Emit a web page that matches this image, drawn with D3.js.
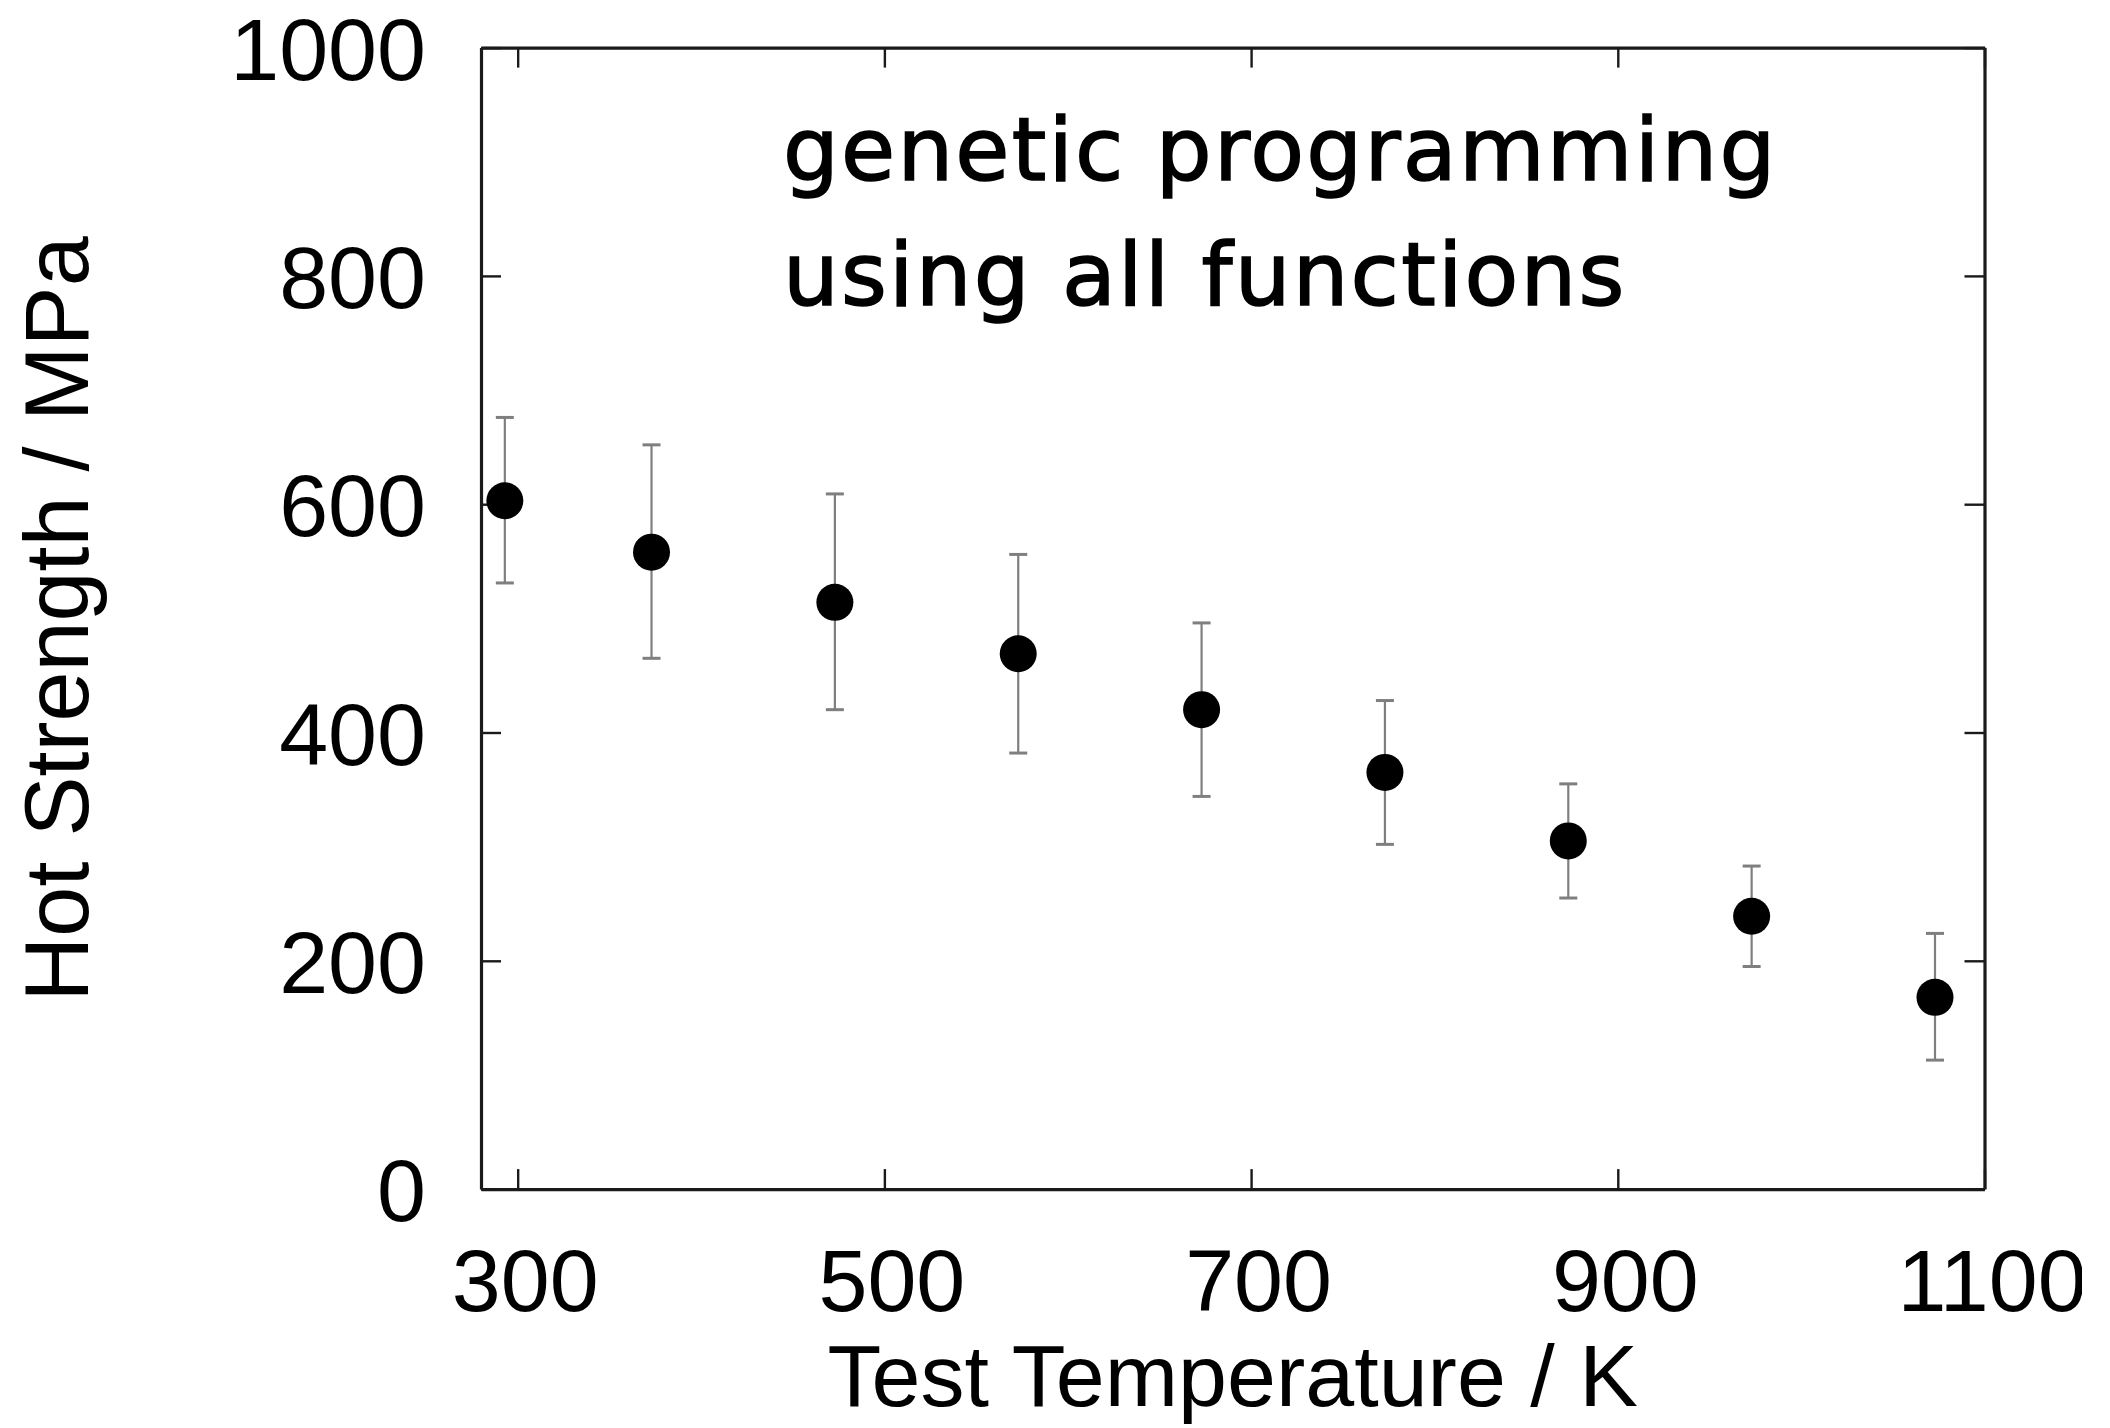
<!DOCTYPE html>
<html>
<head>
<meta charset="utf-8">
<script src="https://cdn.jsdelivr.net/npm/d3@7"></script>
<style>
	body { margin: 0; background: #fff; }
	.tick text { font-family: "Liberation Sans", Arial, sans-serif; }
</style>
</head>
<body>
<div id="chart"></div>
<script>
// test temperature / K
var temperatures = [293, 373, 473, 573, 673, 773, 873, 973, 1073];
// predicted hot strength / MPa
var strength = [603, 558, 514, 469, 420, 365, 305, 239, 168];
// error bar ends / MPa
var upper = [676, 652, 609, 556, 496, 428, 355, 283, 224];
var lower = [531, 465, 420, 382, 344, 302, 255, 195, 113];

var xTicks = [300, 500, 700, 900, 1100];
var yTicks = [0, 200, 400, 600, 800, 1000];

var width = 2110,
	height = 1428;

var margin = {top: 47.6, right: 125.5, bottom: 238.9, left: 481};
var innerW = width - margin.left - margin.right,
	innerH = height - margin.top - margin.bottom;

var svg = d3.select('#chart')
	.append('svg')
	.attr('width', width)
	.attr('height', height);

// the reference is cut off on the right
svg.append('clipPath')
	.attr('id', 'cut')
	.append('rect')
	.attr('width', 2082)
	.attr('height', height);

var root = svg.append('g')
	.attr('clip-path', 'url(#cut)');

var g = root.append('g')
	.attr('transform', 'translate(' + margin.left + ',' + margin.top + ')');

var x = d3.scaleLinear()
	.domain([280, 1100])
	.range([0, innerW]);

var y = d3.scaleLinear()
	.domain([0, 1000])
	.range([innerH, 0]);

var TICK = 20,
	fmt = d3.format('d');

function styleAxis(sel, showLabels) {
	sel.select('.domain')
		.attr('stroke', '#1a1a1a')
		.attr('stroke-width', 3.2);
	sel.selectAll('.tick line')
		.attr('stroke', '#1a1a1a')
		.attr('stroke-width', 2.4);
	sel.selectAll('.tick text')
		.attr('fill', '#000')
		.style('font-size', '88px')
		.style('display', showLabels ? null : 'none');
}

// bottom
g.append('g')
	.attr('transform', 'translate(0,' + innerH + ')')
	.call(d3.axisBottom(x).tickValues(xTicks).tickFormat(fmt).tickSizeInner(-TICK).tickSizeOuter(0).tickPadding(0))
	.call(styleAxis, true)
	.selectAll('.tick text')
	.attr('dy', null)
	.attr('y', 122)
	.attr('x', 7);

// top
g.append('g')
	.call(d3.axisTop(x).tickValues(xTicks).tickSizeInner(-TICK).tickSizeOuter(0))
	.call(styleAxis, false);

// left
g.append('g')
	.call(d3.axisLeft(y).tickValues(yTicks).tickFormat(fmt).tickSizeInner(-TICK).tickSizeOuter(0).tickPadding(0))
	.call(styleAxis, true)
	.selectAll('.tick text')
	.attr('x', -55)
	.attr('dy', '0.36em');

// right
g.append('g')
	.attr('transform', 'translate(' + innerW + ',0)')
	.call(d3.axisRight(y).tickValues(yTicks).tickSizeInner(-TICK).tickSizeOuter(0))
	.call(styleAxis, false);

var pts = temperatures.map(function(t, i) {
	return {t: t, s: strength[i], hi: upper[i], lo: lower[i]};
});

// error bars
var bars = g.append('g')
	.attr('stroke', '#7f7f7f')
	.attr('stroke-width', 2.2)
	.selectAll('g.err')
	.data(pts)
	.enter()
	.append('g')
	.classed('err', true);

bars.append('line')
	.attr('x1', function(d) { return x(d.t); })
	.attr('x2', function(d) { return x(d.t); })
	.attr('y1', function(d) { return y(d.hi); })
	.attr('y2', function(d) { return y(d.lo); });

bars.selectAll('line.cap')
	.data(function(d) { return [[d.t, d.hi], [d.t, d.lo]]; })
	.enter()
	.append('line')
	.classed('cap', true)
	.attr('stroke-width', 3)
	.attr('x1', function(d) { return x(d[0]) - 9; })
	.attr('x2', function(d) { return x(d[0]) + 9; })
	.attr('y1', function(d) { return y(d[1]); })
	.attr('y2', function(d) { return y(d[1]); });

// points
g.append('g')
	.selectAll('circle')
	.data(pts)
	.enter()
	.append('circle')
	.attr('cx', function(d) { return x(d.t); })
	.attr('cy', function(d) { return y(d.s); })
	.attr('r', 18.5)
	.attr('fill', '#000');

// annotation
var note = root.append('text')
	.attr('x', 783)
	.attr('y', 180)
	.style('font-family', '"DejaVu Sans", Verdana, sans-serif')
	.style('font-size', '88px')
	.style('letter-spacing', '2.2px')
	.attr('fill', '#000')
	.attr('stroke', '#000')
	.attr('stroke-width', 1.6);
note.append('tspan')
	.attr('x', 783)
	.text('genetic programming');
note.append('tspan')
	.attr('x', 783)
	.attr('dy', 125)
	.text('using all functions');

// axis titles
root.append('text')
	.attr('transform', 'translate(' + 88 + ',' + 619 + ') rotate(-90)')
	.attr('text-anchor', 'middle')
	.style('font-family', '"Liberation Sans", Arial, sans-serif')
	.style('font-size', '90px')
	.attr('fill', '#000')
	.text('Hot Strength / MPa');

root.append('text')
	.attr('x', margin.left + innerW / 2)
	.attr('y', 1406)
	.attr('text-anchor', 'middle')
	.style('font-family', '"Liberation Sans", Arial, sans-serif')
	.style('font-size', '88px')
	.attr('fill', '#000')
	.text('Test Temperature / K');
</script>
</body>
</html>
